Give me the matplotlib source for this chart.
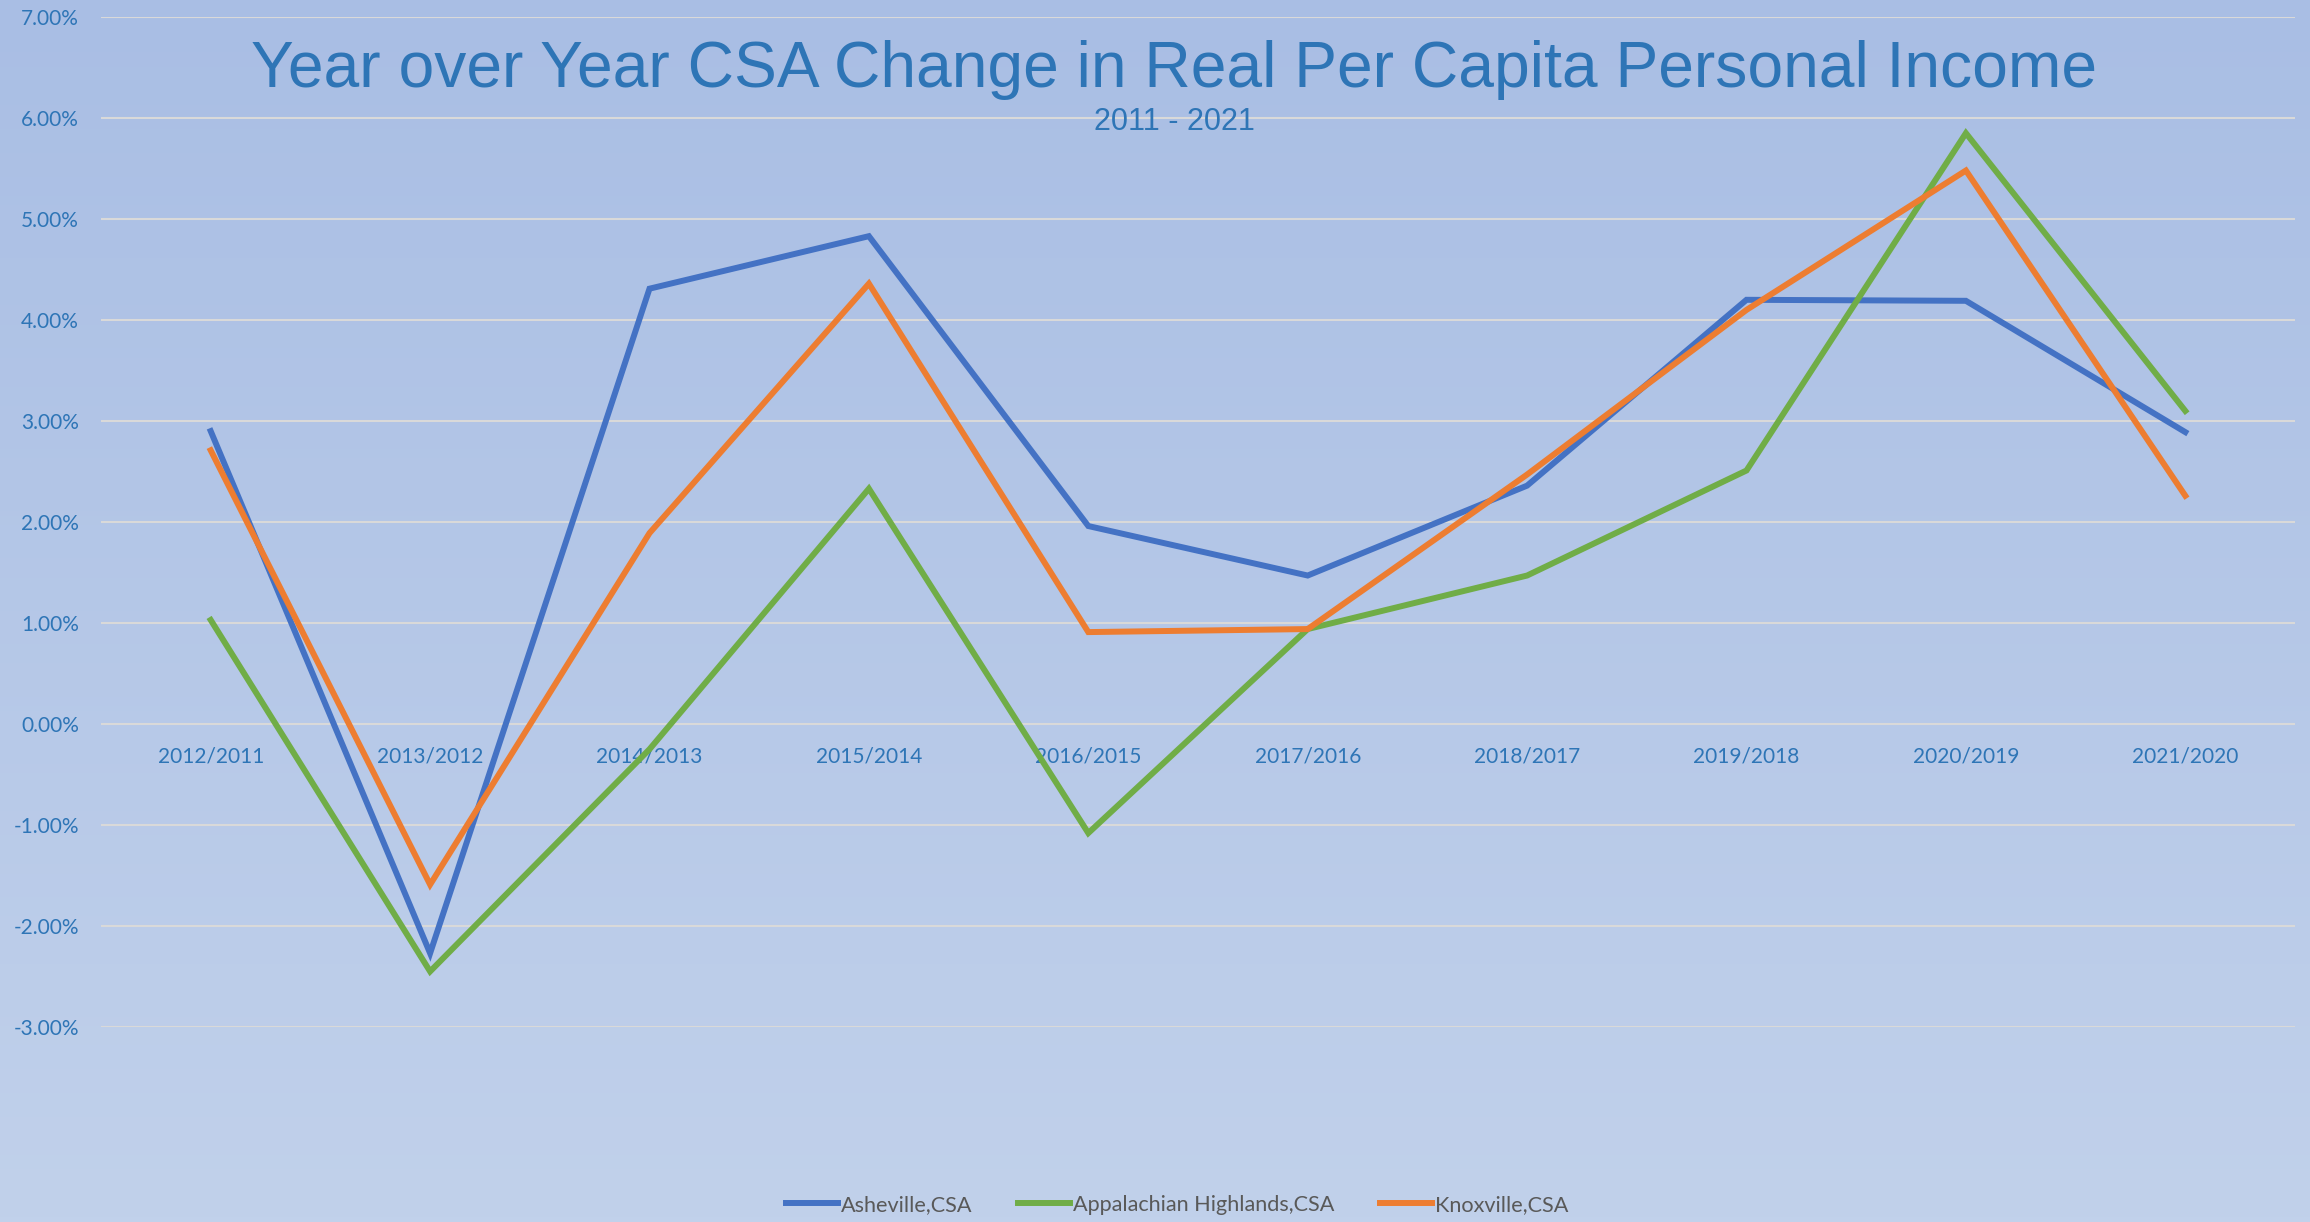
import numpy as np
import matplotlib
matplotlib.use("Agg")
import matplotlib.pyplot as plt
from matplotlib.ticker import FuncFormatter, MultipleLocator

categories = ["2012/2011", "2013/2012", "2014/2013", "2015/2014", "2016/2015",
              "2017/2016", "2018/2017", "2019/2018", "2020/2019", "2021/2020"]
asheville = [2.90, -2.27, 4.31, 4.83, 1.96, 1.47, 2.36, 4.20, 4.19, 2.89]
appalachian = [1.03, -2.45, -0.25, 2.33, -1.08, 0.94, 1.47, 2.51, 5.85, 3.10]
knoxville = [2.71, -1.59, 1.89, 4.36, 0.91, 0.94, 2.47, 4.10, 5.48, 2.26]
series_names = ["Asheville,CSA", "Appalachian Highlands,CSA", "Knoxville,CSA"]
colors = ["#4472C4", "#70AD47", "#ED7D31"]

W, H = 2310, 1222
fig = plt.figure(figsize=(W / 100, H / 100), dpi=100)

# background gradient
bg = fig.add_axes([0, 0, 1, 1], zorder=-10)
top = np.array([169, 190, 228]) / 255
bot = np.array([193, 209, 235]) / 255
t = np.linspace(0, 1, 256)[:, None]
grad = top[None, :] * (1 - t) + bot[None, :] * t
bg.imshow(grad[:, None, :], aspect="auto", extent=[0, 1, 0, 1])
bg.set_axis_off()

ax = fig.add_axes([101 / W, 1 - 1027 / H, (2295 - 101) / W, (1027 - 17) / H])
ax.set_facecolor("none")

x = np.arange(len(categories))
for vals, name, c in zip([asheville, appalachian, knoxville], series_names, colors):
    ax.plot(x, vals, color=c, lw=4.3, label=name, solid_joinstyle="miter", zorder=3)

ax.set_xlim(-0.5, len(categories) - 0.5)
ax.set_ylim(-3, 7)
ax.yaxis.set_major_locator(MultipleLocator(1))
ax.yaxis.set_major_formatter(FuncFormatter(lambda v, p: f"{v:.2f}%"))
ax.grid(axis="y", color="#D9D9D9", lw=1.5, zorder=1)
ax.set_axisbelow(True)
for s in ["top", "right", "left"]:
    ax.spines[s].set_visible(False)
ax.spines["bottom"].set_position(("data", 0))
ax.spines["bottom"].set_visible(False)
ax.set_xticks(x)
ax.set_xticklabels(categories)

label_color = "#2E75B6"
ax.tick_params(axis="x", length=0, pad=16, labelsize=15, labelcolor=label_color)
ax.tick_params(axis="y", length=0, pad=16, labelsize=15, labelcolor=label_color)
for lab in ax.get_xticklabels() + ax.get_yticklabels():
    lab.set_fontfamily("Lato")

fig.text(1174 / W, 1 - 87 / H, "Year over Year CSA Change in Real Per Capita Personal Income",
         ha="center", va="baseline", fontsize=46.2, color=label_color, family="Liberation Sans")
fig.text(1174 / W, 1 - 130 / H, "2011 - 2021", ha="center", va="baseline",
         fontsize=22, color=label_color, family="Liberation Sans")

leg = fig.legend(loc="center", bbox_to_anchor=(1177 / W, 1 - 1205 / H), ncol=3,
                 frameon=False, prop={"family": "Lato", "size": 15.6},
                 handlelength=2.4, handletextpad=0.15, columnspacing=2.1)
for txt in leg.get_texts():
    txt.set_color("#595959")

fig.savefig("out.png", dpi=100)
